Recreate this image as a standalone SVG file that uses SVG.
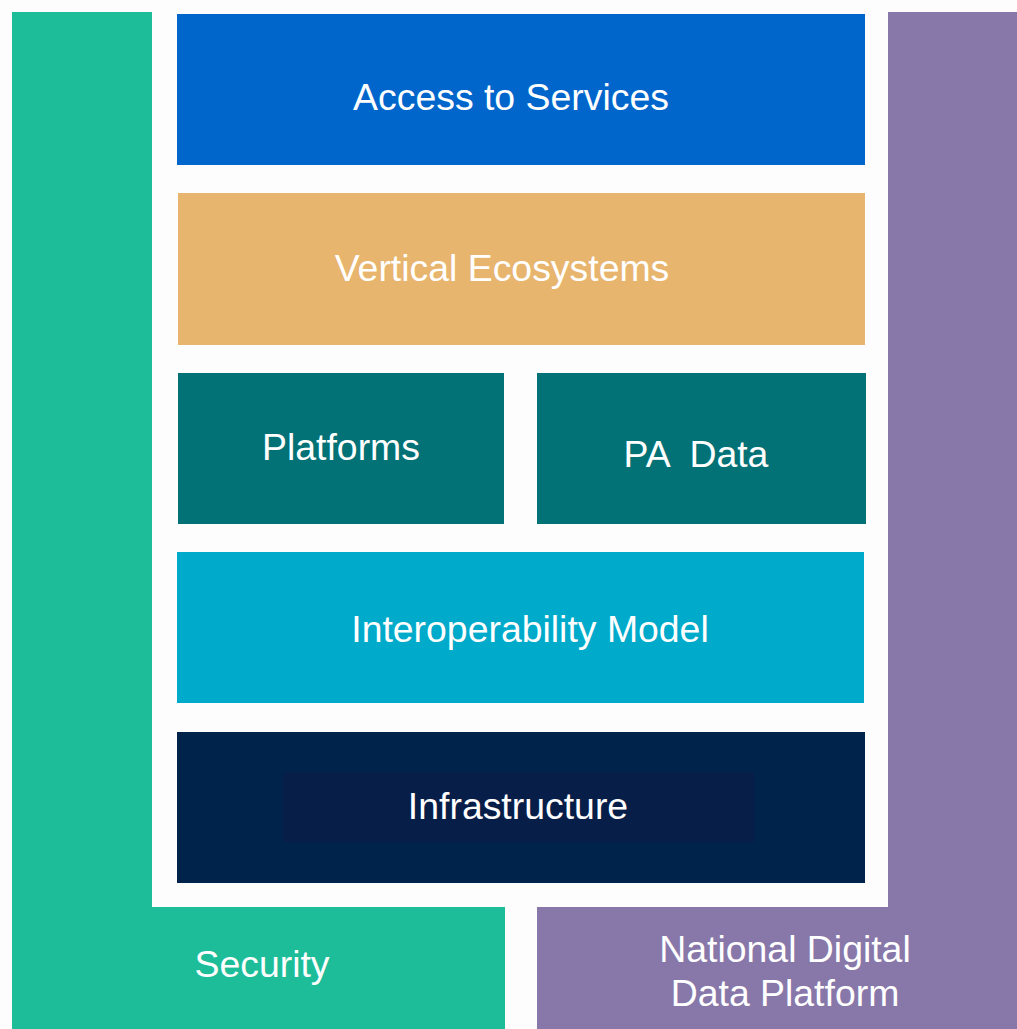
<svg xmlns="http://www.w3.org/2000/svg" width="1017" height="1029" viewBox="0 0 1017 1029">
<style>
text{font-family:"Liberation Sans",Arial,sans-serif;font-size:37.4px;fill:#ffffff;text-anchor:middle;white-space:pre}
</style>
<rect width="1017" height="1029" fill="#fdfdfd"/>
<g id="security">
<path d="M12 12H152V907H505V1029H12Z" fill="#1dbd9a"/>
<text x="262" y="977">Security</text>
</g>
<g id="national-digital-data-platform">
<path d="M888 12H1017V1029H537V907H888Z" fill="#8878aa"/>
<text x="785" y="962">National Digital</text>
<text x="785" y="1006">Data Platform</text>
</g>
<g id="access-to-services">
<rect x="177" y="14" width="688" height="151" fill="#0066cc"/>
<text x="511" y="110">Access to Services</text>
</g>
<g id="vertical-ecosystems">
<rect x="178" y="193" width="687" height="152" fill="#e8b56e"/>
<text x="502" y="281">Vertical Ecosystems</text>
</g>
<g id="platforms">
<rect x="178" y="373" width="326" height="151" fill="#037276"/>
<text x="341" y="460">Platforms</text>
</g>
<g id="pa-data">
<rect x="537" y="373" width="329" height="151" fill="#037276"/>
<text x="696" y="467" xml:space="preserve">PA  Data</text>
</g>
<g id="interoperability-model">
<rect x="177" y="552" width="687" height="151" fill="#00aacb"/>
<text x="530" y="642">Interoperability Model</text>
</g>
<g id="infrastructure">
<rect x="177" y="732" width="688" height="151" fill="#00234b"/>
<rect x="283" y="772" width="471" height="70" fill="#071e48"/>
<text x="518" y="819">Infrastructure</text>
</g>
<g id="connectors"/>
</svg>
